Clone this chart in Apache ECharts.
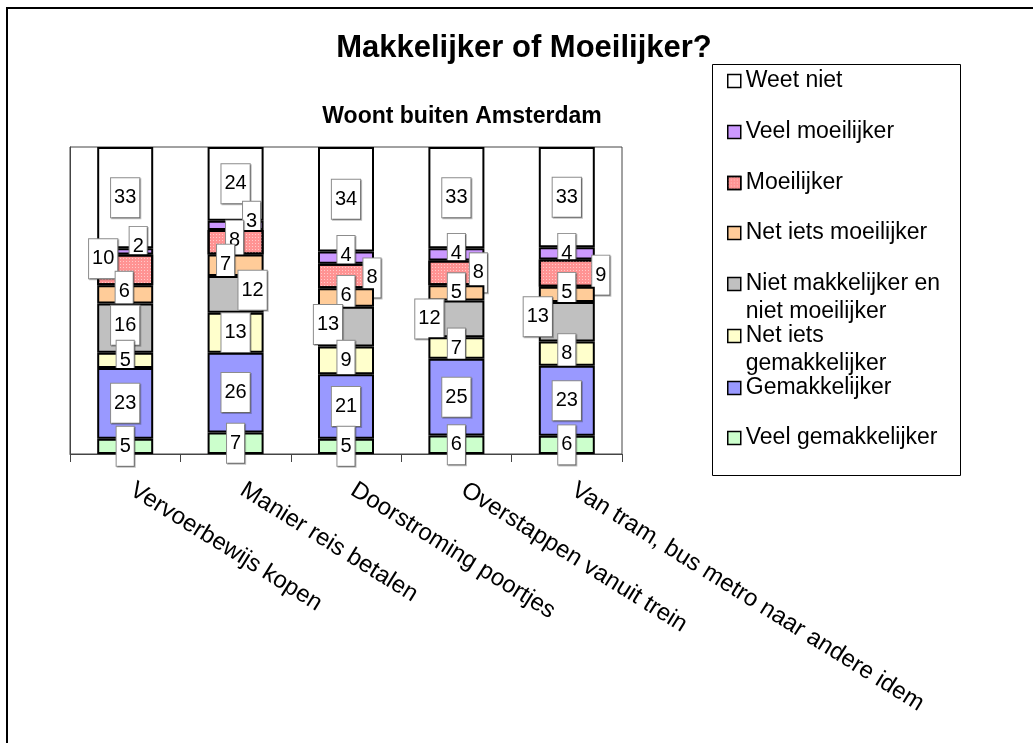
<!DOCTYPE html>
<html>
<head>
<meta charset="utf-8">
<title>Makkelijker of Moeilijker?</title>
<script src="https://cdn.jsdelivr.net/npm/echarts@6/dist/echarts.min.js"></script>
<style>
  html, body { margin: 0; padding: 0; background: #fff; }
  #chart { width: 1033px; height: 743px; }
</style>
</head>
<body>
<div id="chart"></div>
<script>
const categories = [
  'Vervoerbewijs kopen',
  'Manier reis betalen',
  'Doorstroming poortjes',
  'Overstappen vanuit trein',
  'Van tram, bus metro naar andere idem'
];

// stacked from the bottom of the bar to the top
const veelGemakkelijker    = [5, 7, 5, 6, 6];
const gemakkelijker        = [23, 26, 21, 25, 23];
const netIetsGemakkelijker = [5, 13, 9, 7, 8];
const nietMakkelijkerNiet  = [16, 12, 13, 12, 13];
const netIetsMoeilijker    = [6, 7, 6, 5, 5];
const moeilijker           = [10, 8, 8, 8, 9];
const veelMoeilijker       = [2, 3, 4, 4, 4];
const weetNiet             = [33, 24, 34, 33, 33];

const seriesNames = [
  'Veel gemakkelijker',
  'Gemakkelijker',
  'Net iets gemakkelijker',
  'Niet makkelijker en niet moeilijker',
  'Net iets moeilijker',
  'Moeilijker',
  'Veel moeilijker',
  'Weet niet'
];
const seriesValues = [
  veelGemakkelijker, gemakkelijker, netIetsGemakkelijker, nietMakkelijkerNiet,
  netIetsMoeilijker, moeilijker, veelMoeilijker, weetNiet
];
const seriesColors = ['#CCFFCC', '#9999FF', '#FFFFCC', '#C0C0C0', '#FFCC99', '#FF9393', '#CC99FF', '#FFFFFF'];

const FONT = 'Arial, "Liberation Sans", sans-serif';

// every bar is shown as 100%, like the excel original
const totals = categories.map((c, i) => seriesValues.reduce((s, arr) => s + arr[i], 0));

// labels that were pushed aside in the original: [dx, dy] per category
const labelNudge = {
  3: [[0, -3], [17, -4], [-18, -2], [-27, 0], [-29, -5]],
  4: [[-1, -3], [-10, -1], [0, -2], [0, 0], [0, -2]],
  5: [[-22, -11], [-1, -2], [26, 2], [22, 0], [34, 2]],
  6: [[13, -5], [16, -4], [0, -2], [0, -1], [0, 0]]
};

// legend text wrapping (leading empty line keeps the icon on the first line)
const legendWrap = {
  'Niet makkelijker en niet moeilijker': '\nNiet makkelijker en\nniet moeilijker',
  'Net iets gemakkelijker': '\nNet iets\ngemakkelijker'
};
const legendRowY = [80, 131, 182, 232, 283, 335, 387, 437];

const chart = echarts.init(document.getElementById('chart'));

const series = seriesNames.map((name, s) => ({
  name: name,
  type: 'bar',
  stack: 'total',
  barWidth: 56,
  z: 10 - s,
  itemStyle: {
    color: seriesColors[s],
    borderColor: '#000',
    borderWidth: 2,
    decal: name === 'Moeilijker' ? {
      symbol: 'rect',
      symbolSize: 1,
      dashArrayX: [1, 2],
      dashArrayY: [1, 2],
      color: 'rgba(255,225,225,0.7)',
      rotation: 0
    } : null
  },
  label: {
    show: true,
    position: 'inside',
    color: '#000',
    fontFamily: FONT,
    fontSize: 20,
    backgroundColor: '#fff',
    borderColor: '#8c8c8c',
    borderWidth: 1,
    padding: [10, 3, 9, 3],
    shadowColor: 'rgba(0,0,0,0.25)',
    shadowOffsetX: 1,
    shadowOffsetY: 1,
    formatter: p => String(seriesValues[s][p.dataIndex])
  },
  data: seriesValues[s].map((v, i) => {
    const item = { value: v / totals[i] * 100 };
    if (labelNudge[s]) item.label = { offset: labelNudge[s][i] };
    return item;
  })
}));

// one legend per row so the rows keep the spacing of the original
const legends = seriesNames.slice().reverse().map((name, r) => {
  const wrapped = !!legendWrap[name];
  return {
    data: [name],
    left: 727,
    top: legendRowY[r] + 1 - (wrapped ? 42 : 14),
    padding: 0,
    icon: 'rect',
    itemWidth: 13,
    itemHeight: 13,
    selectedMode: false,
    itemStyle: { borderColor: '#000', borderWidth: 1.5 },
    formatter: n => legendWrap[n] || n,
    textStyle: {
      fontFamily: FONT,
      fontSize: 23,
      color: '#000',
      lineHeight: 28
    }
  };
});

chart.setOption({
  animation: false,
  backgroundColor: '#fff',
  title: [
    {
      text: 'Makkelijker of Moeilijker?',
      left: 519,
      top: 28,
      textAlign: 'center',
      textStyle: { fontFamily: FONT, fontSize: 31, fontWeight: 'bold', color: '#000' }
    },
    {
      text: 'Woont buiten Amsterdam',
      left: 457,
      top: 100,
      textAlign: 'center',
      textStyle: { fontFamily: FONT, fontSize: 23, fontWeight: 'bold', color: '#000' }
    }
  ],
  legend: legends,
  graphic: [
    {
      type: 'rect',
      shape: { x: 7, y: 8, width: 1100, height: 800 },
      style: { fill: 'none', stroke: '#000', lineWidth: 2 },
      silent: true
    },
    {
      type: 'rect',
      shape: { x: 712.5, y: 64.5, width: 248, height: 411 },
      style: { fill: 'none', stroke: '#000', lineWidth: 1 },
      silent: true
    }
  ],
  grid: {
    left: 70,
    right: 411,
    top: 147,
    bottom: 289,
    show: true,
    borderColor: '#444',
    borderWidth: 1,
    containLabel: false,
    outerBoundsMode: 'none'
  },
  xAxis: {
    type: 'category',
    data: categories,
    axisLine: { lineStyle: { color: '#444', width: 1 } },
    axisTick: { show: true, length: 8, lineStyle: { color: '#444' } },
    axisLabel: {
      interval: 0,
      rotate: -32,
      margin: 30,
      padding: [0, 0, 0, 8],
      color: '#000',
      fontFamily: FONT,
      fontSize: 24
    }
  },
  yAxis: {
    type: 'value',
    min: 0,
    max: 100,
    axisLine: { show: true, lineStyle: { color: '#444' } },
    axisTick: { show: false },
    axisLabel: { show: false },
    splitLine: { show: false }
  },
  series: series
});
</script>
</body>
</html>
